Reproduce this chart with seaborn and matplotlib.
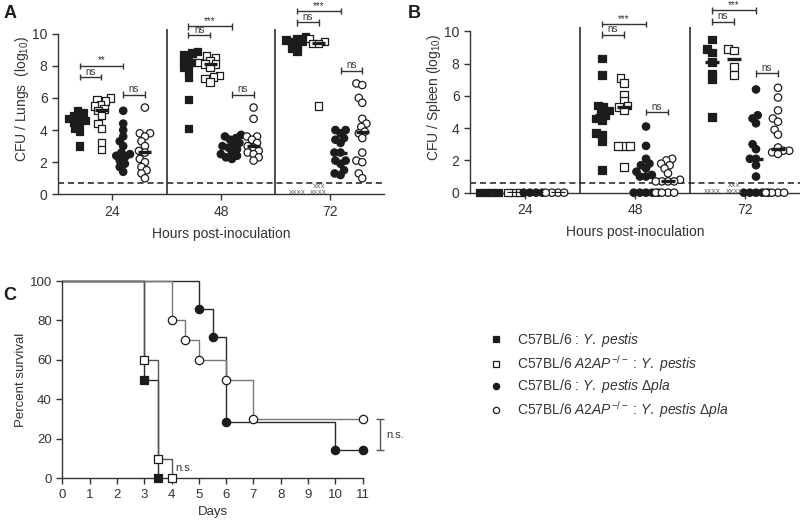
import warnings
import pandas as pd
import matplotlib
matplotlib.use("Agg")
import matplotlib.pyplot as plt
from matplotlib.lines import Line2D
import seaborn as sns

warnings.filterwarnings("ignore")

hours = ["24", "48", "72"]
groups = ["wt_yp", "ko_yp", "wt_dpla", "ko_dpla"]
legend_labels = [
    r"C57BL/6 : $\mathit{Y.\ pestis}$",
    r"C57BL/6 $\mathit{A2AP}^{-/-}$ : $\mathit{Y.\ pestis}$",
    r"C57BL/6 : $\mathit{Y.\ pestis}\ \Delta\mathit{pla}$",
    r"C57BL/6 $\mathit{A2AP}^{-/-}$ : $\mathit{Y.\ pestis}\ \Delta\mathit{pla}$",
]

# CFU / lungs (log10), one list per time point: 24, 48, 72 h
lungs_wt_yp = [
    [5.2, 5.1, 4.9, 4.8, 4.7, 4.6, 4.5, 4.4, 4.1, 3.9, 3.0],
    [8.9, 8.8, 8.7, 8.5, 8.3, 8.2, 8.1, 7.9, 7.7, 7.3, 5.9, 4.1],
    [9.8, 9.7, 9.6, 9.5, 9.5, 9.3, 9.1, 8.9],
]
lungs_ko_yp = [
    [6.0, 5.9, 5.8, 5.6, 5.5, 5.3, 5.2, 4.9, 4.4, 4.1, 3.2, 2.8],
    [8.6, 8.5, 8.3, 8.2, 8.1, 8.1, 7.9, 7.4, 7.3, 7.2, 7.0],
    [9.7, 9.5, 9.4, 9.4, 5.5],
]
lungs_wt_dpla = [
    [5.2, 4.4, 4.0, 3.6, 3.3, 3.0, 2.6, 2.5, 2.4, 2.3, 2.1, 1.9, 1.7, 1.4],
    [3.7, 3.6, 3.5, 3.4, 3.2, 3.1, 3.0, 2.9, 2.8, 2.6, 2.5, 2.4, 2.3, 2.2],
    [4.0, 4.0, 3.8, 3.5, 3.4, 3.2, 2.6, 2.6, 2.1, 2.1, 1.9, 1.5, 1.3, 1.2],
]
lungs_ko_dpla = [
    [5.4, 3.8, 3.8, 3.6, 3.3, 3.0, 2.7, 2.6, 2.2, 2.0, 1.7, 1.5, 1.3, 1.0],
    [5.4, 4.7, 3.6, 3.6, 3.4, 3.2, 3.0, 2.9, 2.7, 2.6, 2.5, 2.3, 2.1],
    [6.9, 6.8, 6.0, 5.7, 4.7, 4.4, 4.2, 3.9, 3.8, 3.5, 2.6, 2.1, 2.0, 1.3, 1.0],
]

# CFU / spleen (log10)
spleen_wt_yp = [
    [0, 0, 0, 0],
    [8.3, 7.3, 5.4, 5.3, 5.1, 5.0, 4.8, 4.6, 4.5, 3.7, 3.6, 3.2, 1.4],
    [9.5, 8.9, 8.7, 8.1, 7.4, 7.0, 4.7],
]
spleen_ko_yp = [
    [0, 0, 0],
    [7.1, 6.8, 6.1, 5.7, 5.4, 5.3, 5.1, 2.9, 2.9, 2.9, 1.6],
    [8.9, 8.8, 7.8, 7.3],
]
spleen_wt_dpla = [
    [0, 0, 0, 0],
    [4.1, 2.9, 2.1, 1.8, 1.7, 1.5, 1.3, 1.1, 1.0, 1.0, 0, 0, 0, 0, 0],
    [6.4, 4.8, 4.6, 4.3, 3.0, 2.7, 2.1, 2.1, 1.7, 1.0, 0, 0, 0, 0, 0],
]
spleen_ko_dpla = [
    [0, 0, 0, 0],
    [2.1, 2.0, 1.8, 1.7, 1.5, 1.2, 0.8, 0.7, 0.7, 0.7, 0.7, 0, 0, 0, 0],
    [6.5, 5.9, 5.1, 4.6, 4.4, 3.9, 3.6, 2.8, 2.6, 2.6, 2.5, 2.4, 0, 0, 0, 0],
]

lungs_lod = 0.7
spleen_lod = 0.6

# significance brackets: (hour index, group a, group b, height, label)
lungs_sig = [(0, 0, 2, 8.0, "**"), (0, 0, 1, 7.3, "ns"), (0, 2, 3, 6.2, "ns"),
             (1, 0, 2, 10.45, "***"), (1, 0, 1, 9.9, "ns"), (1, 2, 3, 6.2, "ns"),
             (2, 0, 2, 11.4, "***"), (2, 0, 1, 10.7, "ns"), (2, 2, 3, 7.7, "ns")]
spleen_sig = [(1, 0, 2, 10.45, "***"), (1, 0, 1, 9.8, "ns"), (1, 2, 3, 5.0, "ns"),
              (2, 0, 2, 11.3, "***"), (2, 0, 1, 10.6, "ns"), (2, 2, 3, 7.4, "ns")]

# survival (Kaplan-Meier steps)
surv_days_wt_yp = [0, 3, 3.5]
surv_pct_wt_yp = [100, 50, 0]
surv_days_ko_yp = [0, 3, 3.5, 4]
surv_pct_ko_yp = [100, 60, 10, 0]
surv_days_wt_dpla = [0, 5, 5.5, 6, 10, 11]
surv_pct_wt_dpla = [100, 85.7, 71.4, 28.6, 14.3, 14.3]
surv_days_ko_dpla = [0, 4, 4.5, 5, 6, 7, 11]
surv_pct_ko_dpla = [100, 80, 70, 60, 50, 30, 30]

INK = "#1c1c1c"
TXT = "#333333"
MARKERS = {"wt_yp": "s", "ko_yp": "s", "wt_dpla": "o", "ko_dpla": "o"}
FACE = {"wt_yp": INK, "ko_yp": "white", "wt_dpla": INK, "ko_dpla": "white"}
SLOT = 0.2  # seaborn dodge slot for 4 hue levels at width 0.8
LAYOUT_SIZE = 3.3  # marker size used for the swarm layout (points overlap like the original)
DOT_SIZE = 5.3

sns.set_style("ticks")
plt.rcParams["font.family"] = ["Liberation Sans", "DejaVu Sans"]
plt.rcParams["mathtext.fontset"] = "custom"
plt.rcParams["mathtext.rm"] = "Liberation Sans"
plt.rcParams["mathtext.it"] = "Liberation Sans:italic"
plt.rcParams["axes.edgecolor"] = TXT
plt.rcParams["axes.linewidth"] = 1.0


def to_long(series):
    rows = []
    for g, per_hour in zip(groups, series):
        for h, vals in zip(hours, per_hour):
            rows += [{"group": g, "hour": h, "cfu": v} for v in vals]
    return pd.DataFrame(rows)


def xpos(hi, gi):
    return hi + (gi - 1.5) * SLOT


def cfu_panel(ax, df, ylabel, lod, sig, dead_y):
    swarms = []
    for g in groups:
        n0 = len(ax.collections)
        sns.swarmplot(data=df[df.group == g], x="hour", y="cfu", hue="group",
                      order=hours, hue_order=groups, palette=FACE, dodge=True,
                      marker=MARKERS[g], size=LAYOUT_SIZE, edgecolor=INK, linewidth=0.9,
                      legend=False, warn_thresh=1, zorder=3, ax=ax)
        swarms += list(ax.collections[n0:])
    sns.boxplot(data=df, x="hour", y="cfu", hue="group", order=hours,
                hue_order=groups, dodge=True, width=0.8, gap=0.4,
                showbox=False, showcaps=False, showfliers=False, whis=0,
                whiskerprops={"visible": False},
                medianprops={"color": INK, "linewidth": 2.4, "zorder": 4},
                legend=False, ax=ax)
    if ax.get_legend() is not None:
        ax.get_legend().remove()

    ax.axhline(lod, ls="--", color=INK, lw=1.1, dashes=(4, 2.5))
    ax.vlines([0.5, 1.5], 0, 10.3, color=INK, lw=1.1)

    for hi, ga, gb, y, lab in sig:
        x1, x2 = xpos(hi, ga), xpos(hi, gb)
        ax.hlines(y, x1, x2, color=TXT, lw=1.0, clip_on=False)
        ax.vlines([x1, x2], y - 0.2, y + 0.2, color=TXT, lw=1.0, clip_on=False)
        ax.text((x1 + x2) / 2, y + 0.02, lab, ha="center", va="bottom",
                fontsize=7, color=TXT, clip_on=False)

    # animals that died before sampling at 72 h
    ax.text(xpos(2, 0), dead_y[0], "xxxx", ha="center", va="center", fontsize=6, color="#666666")
    ax.text(xpos(2, 1), dead_y[0], "xxxx", ha="center", va="center", fontsize=6, color="#666666")
    ax.text(xpos(2, 1), dead_y[1], "xxx", ha="center", va="center", fontsize=6, color="#666666")

    ax.set_xlim(-0.5, 2.5)
    ax.set_ylim(0, 11.8)
    ax.set_yticks(range(0, 11, 2))
    ax.spines["left"].set_bounds(0, 10)
    sns.despine(ax=ax)
    ax.tick_params(direction="out", length=4, width=1, colors=TXT, labelsize=10)
    ax.set_xlabel("Hours post-inoculation", fontsize=10, color=TXT, labelpad=6)
    ax.set_ylabel(ylabel, fontsize=10, color=TXT, labelpad=1)
    return swarms


fig = plt.figure(figsize=(8, 5.26), dpi=100)
ax_a = fig.add_axes([0.0725, 0.6306, 0.4075, 0.3604])
ax_b = fig.add_axes([0.5875, 0.6337, 0.4125, 0.3619])
ax_c = fig.add_axes([0.0779, 0.0907, 0.3755, 0.375])

swarms = cfu_panel(ax_a, to_long([lungs_wt_yp, lungs_ko_yp, lungs_wt_dpla, lungs_ko_dpla]),
                   r"CFU / Lungs  (log$_{10}$)", lungs_lod, lungs_sig, (0.1, 0.5))
swarms += cfu_panel(ax_b, to_long([spleen_wt_yp, spleen_ko_yp, spleen_wt_dpla, spleen_ko_dpla]),
                    r"CFU / Spleen (log$_{10}$)", spleen_lod, spleen_sig, (0.08, 0.42))

# panel C: survival
survival = [(surv_days_wt_yp, surv_pct_wt_yp), (surv_days_ko_yp, surv_pct_ko_yp),
            (surv_days_wt_dpla, surv_pct_wt_dpla), (surv_days_ko_dpla, surv_pct_ko_dpla)]
line_cols = ["#2a2a2a", "#555555", "#2a2a2a", "#777777"]
for g, (days, pct), lc in zip(groups, survival, line_cols):
    sns.lineplot(x=days, y=pct, drawstyle="steps-post", estimator=None, sort=False,
                 color=lc, lw=1.0, clip_on=False, ax=ax_c)
for g, (days, pct) in zip(groups, survival):
    sns.scatterplot(x=days[1:], y=pct[1:], marker=MARKERS[g], s=36, color=FACE[g],
                    edgecolor=INK, linewidth=0.9, zorder=4, clip_on=False, ax=ax_c)

ax_c.text(4.15, 2.5, "n.s.", fontsize=8, color=TXT, va="bottom")
ax_c.vlines(11.63, surv_pct_wt_dpla[-1], surv_pct_ko_dpla[-1], color="#555555", lw=1.0, clip_on=False)
ax_c.hlines([surv_pct_wt_dpla[-1], surv_pct_ko_dpla[-1]], 11.48, 11.78, color="#555555", lw=1.0, clip_on=False)
ax_c.text(11.85, 22, "n.s.", fontsize=8, color=TXT, va="center")

ax_c.set_xlim(0, 11)
ax_c.set_ylim(0, 100)
ax_c.set_xticks(range(0, 12))
ax_c.set_yticks(range(0, 101, 20))
sns.despine(ax=ax_c)
ax_c.tick_params(direction="out", length=4, width=1, colors=TXT, labelsize=9.5)
ax_c.set_xlabel("Days", fontsize=9.5, color=TXT, labelpad=4)
ax_c.set_ylabel("Percent survival", fontsize=9.5, color=TXT, labelpad=2)

handles = [Line2D([], [], ls="none", marker=MARKERS[g], markersize=4.5,
                  markerfacecolor=FACE[g], markeredgecolor=INK, markeredgewidth=0.9)
           for g in groups]
fig.legend(handles, legend_labels, loc="upper left", bbox_to_anchor=(0.598, 0.394),
           frameon=False, fontsize=10, handlelength=0.8, handletextpad=1.1,
           labelspacing=0.26, labelcolor=TXT)

for lab, (x, y) in zip("ABC", [(0.004, 0.99), (0.51, 0.99), (0.004, 0.455)]):
    fig.text(x, y, lab, fontsize=13, fontweight="bold", color=INK, va="top")

# lay the swarms out with small markers, then freeze them and draw full-size dots
fig.canvas.draw()
for coll in swarms:
    if len(coll.get_offsets()) == 0:
        coll.remove()
        continue
    coll.__dict__.pop("draw", None)
    coll.set_sizes([DOT_SIZE ** 2])
    coll.set_clip_on(False)

fig.savefig("out.png", dpi=100)
